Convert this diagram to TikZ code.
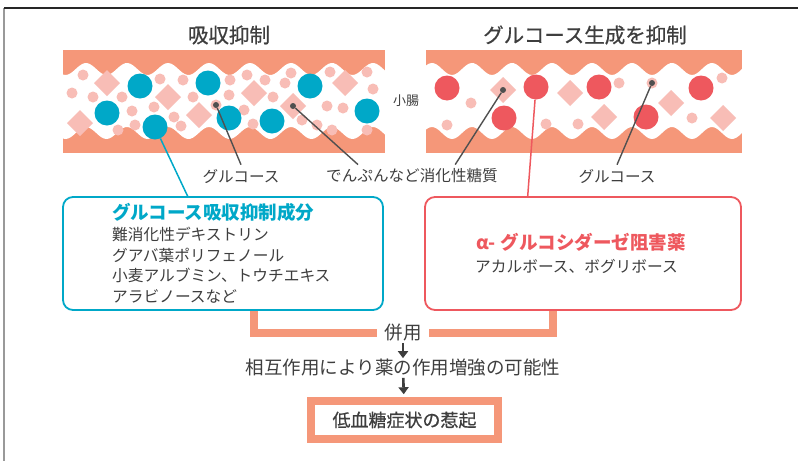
\documentclass[tikz,border=0pt]{standalone}
\usepackage{fontspec}
\setmainfont{Noto Sans CJK JP}
\newfontfamily\medfont[FakeBold=0.6]{Noto Sans CJK JP}
\usepackage{tikz}
\usetikzlibrary{positioning, arrows.meta, calc}
\definecolor{gutOrange}{RGB}{245,151,121}
\definecolor{gutPink}{RGB}{248,189,182}
\definecolor{myBlue}{RGB}{0,168,200}
\definecolor{myRed}{RGB}{238,88,94}
\definecolor{txtGray}{RGB}{62,62,62}
\definecolor{ptrGray}{RGB}{80,80,80}

\begin{document}
\begin{tikzpicture}[x=1pt, y=-1pt,
  ttl/.style={font=\fontsize{20.5}{24}\selectfont\medfont, text=txtGray, inner sep=0pt},
  lbl/.style={font=\fontsize{15.6}{19}\selectfont, text=txtGray, inner sep=4pt},
  body/.style={font=\fontsize{15.7}{20.5}\selectfont, text=txtGray, anchor=west, align=left, inner sep=0pt},
  head/.style={font=\fontsize{18.5}{22}\selectfont\bfseries, anchor=west, inner sep=0pt},
  card/.style={draw, fill=white, line width=1.8pt, rounded corners=10pt, minimum height=113pt},
  ptr/.style={draw=ptrGray, line width=1.4pt},
  dot/.style={circle, fill=ptrGray, inner sep=0pt, minimum size=6pt},
  bigdot/.style={circle, inner sep=0pt, minimum size=25pt},
  joinline/.style={draw=gutOrange, line width=8pt},
  down/.style={draw=txtGray, line width=2.6pt, -{Triangle[width=10pt,length=7pt]}},
]
  \useasboundingbox (0,0) rectangle (798,461);
  \draw[line width=2pt, black!40] (4,8) -- (4,461);
  \draw[line width=1.5pt, black!85] (4,8) -- (798,8);

  \node[ttl] (titleL) at (229,35) {吸収抑制};
  \node[ttl] (titleR) at (585,35) {グルコース生成を抑制};

  % intestine bands with the wavy lumen
  \foreach \xa/\xb/\ph/\per in {63/385/86/41, 426/742/432/40} {
    \fill[gutOrange] (\xa,50) rectangle (\xb,153);
    \fill[white] plot[domain=\xa:\xb, samples=120] (\x,{69-6*cos((\x-\ph)/\per*360)})
      -- plot[domain=\xb:\xa, samples=120] (\x,{133-6*cos((\x-\ph)/\per*360)}) -- cycle;
  }
  \node[font=\fontsize{13}{15}\selectfont, text=txtGray] (gut) at (406,101) {小腸};

  \foreach \px/\py in {107/83, 80/123, 168/97, 199/115, 254/93, 293/106, 345/83,
                       503/90, 570/93, 604/117, 671/103, 723/118}
    \fill[gutPink] (\px,\py) +(-13,0) -- +(0,-13) -- +(13,0) -- +(0,13) -- cycle;
  \foreach \px/\py in {83/75, 72/93, 93/97, 122/97, 118/130, 135/125, 132/111, 160/79,
                       183/80, 174/117, 181/126, 154/107, 193/97, 216/105, 230/80, 229/95,
                       247/75, 265/80, 244/110, 253/124, 273/97, 285/83, 291/73, 317/125,
                       302/120, 330/72, 327/106, 332/130, 343/108, 367/72, 373/89, 367/130,
                       471/103, 447/125, 546/124, 578/124, 619/83, 652/83, 692/118, 722/78}
    \fill[gutPink] (\px,\py) circle (5.5pt);
  \foreach \px/\py in {140/86, 107/113, 208/83, 229/118, 272/121, 310/86, 367/111}
    \fill[myBlue] (\px,\py) circle (12.5pt);
  \foreach \px/\py in {447/88, 504/118, 599/87, 646/117, 701/88}
    \fill[myRed] (\px,\py) circle (12.5pt);
  \node[bigdot, fill=myBlue] (bcA) at (155,127) {};
  \node[bigdot, fill=myRed] (rcA) at (536,87) {};

  \node[dot] (dotA) at (216,105) {};
  \node[dot] (dotB) at (293,106) {};
  \node[dot] (dotC) at (503,90) {};
  \node[dot] (dotD) at (652,83) {};

  \node[lbl] (gluL) at (241,176) {グルコース};
  \node[lbl] (starch) at (412,176) {でんぷんなど消化性糖質};
  \node[lbl] (gluR) at (617,176) {グルコース};
  \draw[ptr] (dotA) -- (gluL.north);
  \draw[ptr] (dotB) -- ($(starch.north west)!0.2!(starch.north east)$);
  \draw[ptr] (dotC) -- ($(starch.north west)!0.74!(starch.north east)$);
  \draw[ptr] (dotD) -- (gluR.north);

  \node[card, draw=myBlue, minimum width=320pt] (lbox) at (223,253.5) {};
  \node[card, draw=myRed, minimum width=316pt] (rbox) at (583,253.5) {};
  \draw[myBlue, line width=1.5pt] (bcA) -- ($(lbox.north west)!0.39!(lbox.north east)$);
  \draw[myRed, line width=1.5pt] (rcA) -- ($(rbox.north west)!0.326!(rbox.north east)$);

  \node[head, text=myBlue] (lhead) at (112,212) {グルコース吸収抑制成分};
  \node[body] (lbody) at (112,265) {難消化性デキストリン\\グアバ葉ポリフェノール\\小麦アルブミン、トウチエキス\\アラビノースなど};
  \node[head, text=myRed] (rhead) at (476,242) {α-\hspace{5pt}グルコシダーゼ阻害薬};
  \node[body] (rbody) at (475,266) {アカルボース、ボグリボース};

  \node[font=\fontsize{18.5}{22}\selectfont, text=txtGray, inner xsep=7pt, inner ysep=1pt] (both) at (403,333) {併用};
  \draw[joinline] ([xshift=31pt]lbox.south) |- (both.west);
  \draw[joinline] ([xshift=-30pt]rbox.south) |- (both.east);

  \node[font=\fontsize{18.5}{22}\selectfont, text=txtGray, inner sep=1pt] (maybe) at (403,368) {相互作用により薬の作用増強の可能性};
  \node[draw=gutOrange, line width=7.5pt, minimum width=187pt, minimum height=38pt,
        font=\fontsize{18}{22}\selectfont\medfont, text=txtGray] (hypo) at (404.5,420) {低血糖症状の惹起};
  \draw[down] (both) -- (maybe);
  \draw[down, shorten >=3pt] (maybe) -- (hypo);
\end{tikzpicture}
\end{document}
